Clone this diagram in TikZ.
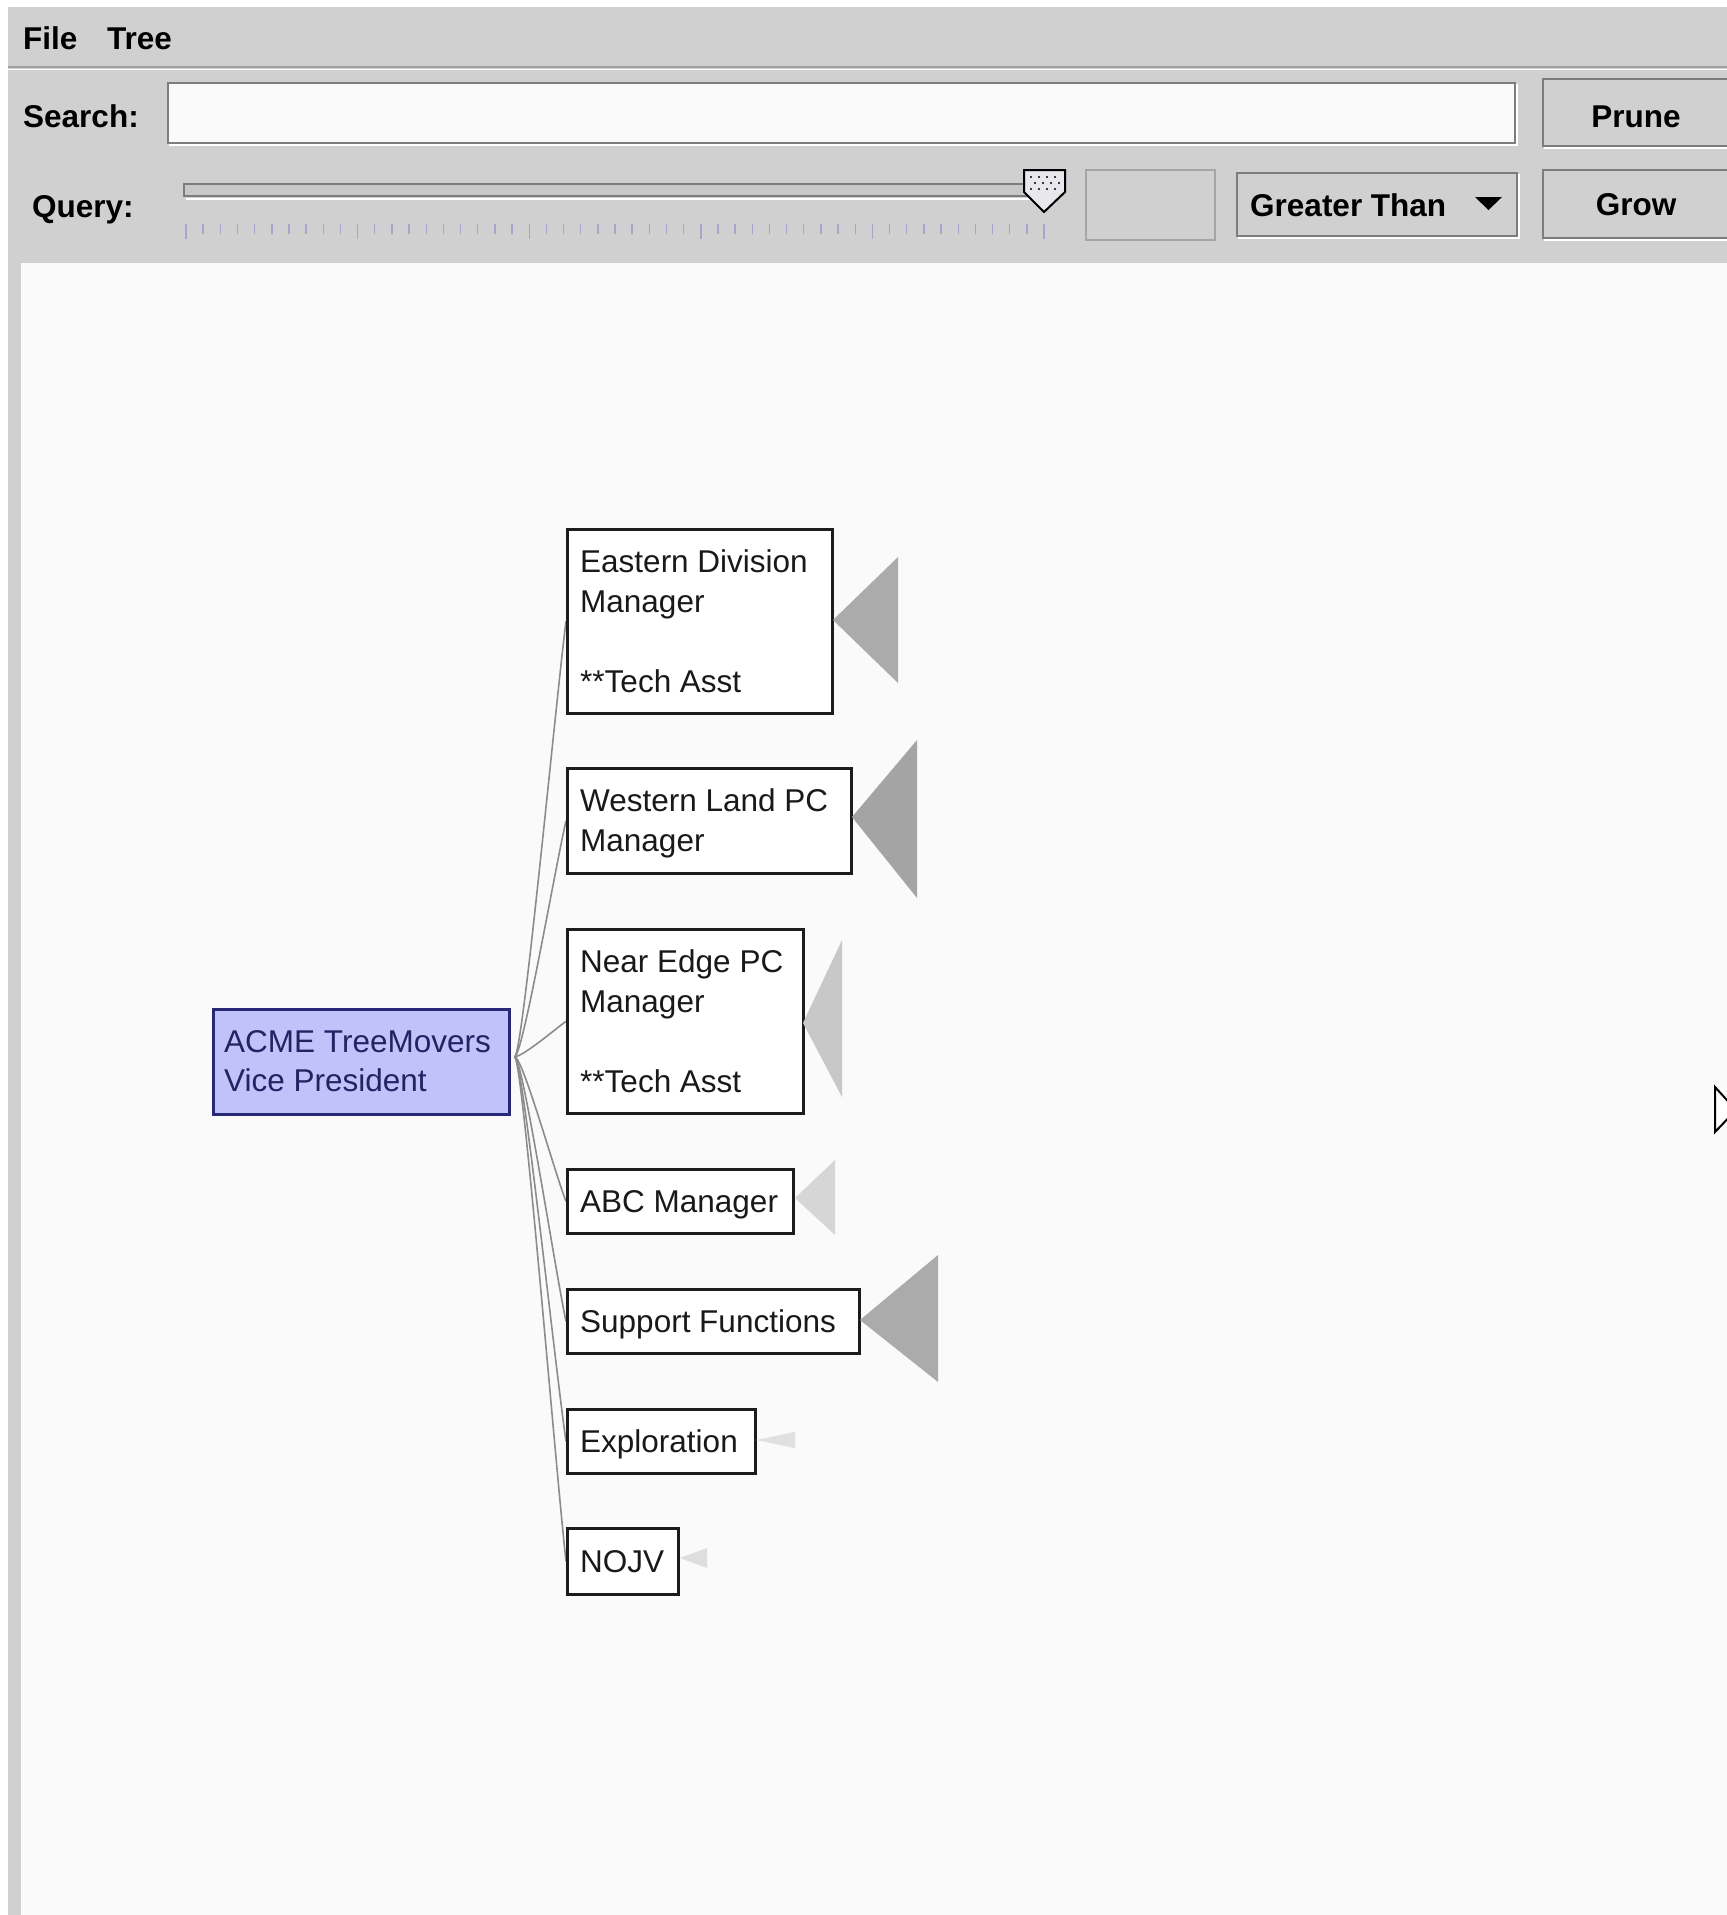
\documentclass[tikz,border=0pt]{standalone}
\usepackage{fontspec}
\setmainfont{Liberation Sans}
\usetikzlibrary{calc}
\pgfdeclarelayer{back}
\pgfdeclarelayer{edges}
\pgfsetlayers{back,edges,main}
\definecolor{panel}{RGB}{208,208,208}
\definecolor{canvas}{RGB}{250,250,250}
\definecolor{etch}{RGB}{125,125,125}
\definecolor{tickc}{RGB}{165,165,205}
\definecolor{rootfill}{RGB}{194,194,250}
\definecolor{rootdraw}{RGB}{40,40,120}
\definecolor{roottext}{RGB}{34,34,100}
\definecolor{boxdraw}{RGB}{28,28,28}
\definecolor{boxtext}{RGB}{25,25,25}
\definecolor{edgecol}{RGB}{140,140,140}
\tikzset{
  ui/.style={font=\fontsize{31.5}{38}\selectfont\bfseries, text=black, inner sep=0pt},
  txt/.style={font=\fontsize{31.5}{40}\selectfont, text=boxtext, inner sep=0pt, anchor=base west},
  roottxt/.style={txt, text=roottext},
  box/.style={draw=boxdraw, line width=2.6pt, fill=white, inner sep=0pt, anchor=north west, rectangle},
  rootbox/.style={box, draw=rootdraw, fill=rootfill},
  link/.style={draw=edgecol, line width=1.6pt},
  btn/.style={fill=panel, draw=etch, line width=2pt},
  etchw/.style={draw=white, line width=2pt},
}
\newcommand\treelink[2]{\draw[link] ($(#1.east)+(4,-5)$) .. controls ($(#1.east)+(12,-5)$) and ($(#2.west)!0.2!(#1.east)$) .. (#2.west);}
\begin{document}
\begin{tikzpicture}[x=1pt,y=-1pt]
\useasboundingbox (0,0) rectangle (1727,1915);
\clip (0,0) rectangle (1727,1915);
% backgrounds
\begin{pgfonlayer}{back}
\fill[white] (0,0) rectangle (1727,1915);
\fill[panel] (8,7) rectangle (1727,1915);
\fill[canvas] (21,263) rectangle (1727,1915);
\end{pgfonlayer}
% menu
\draw[draw={rgb,255:red,160;green,160;blue,160}, line width=2pt] (8,67) -- (1727,67);
\draw[white, line width=1pt] (8,69) -- (1727,69);
\node[ui, anchor=base west] (mfile) at (23,49) {File};
\node[ui, anchor=base west] (mtree) at (107,49) {Tree};
% search row
\node[ui, anchor=base west] (lsearch) at (23,127) {Search:};
\draw[etchw] (170,85) rectangle (1517,145);
\filldraw[fill=canvas, draw=etch, line width=2pt] (168,83) rectangle (1515,143);
\draw[etchw] (1545,81) rectangle (1760,148);
\filldraw[btn] (1543,79) rectangle (1760,146);
\node[ui, anchor=base] (prune) at (1636,127) {Prune};
% query row
\node[ui, anchor=base west] (lquery) at (32,217) {Query:};
\filldraw[fill={rgb,255:red,200;green,200;blue,200}, draw=etch, line width=2pt] (184,184) rectangle (1030,196);
\draw[white, line width=2pt] (186,199) -- (1030,199);
\foreach \i in {0,...,50} {\draw[tickc, line width=1.4pt] ({186+\i*17.16},224) -- ({186+\i*17.16},234);}
\foreach \i in {0,10,...,50} {\draw[tickc, line width=1.4pt] ({186+\i*17.16},224) -- ({186+\i*17.16},239);}
\filldraw[fill={rgb,255:red,232;green,232;blue,236}, draw=black, line width=2pt] (1024,170) -- (1065,170) -- (1065,192) -- (1044,212) -- (1024,192) -- cycle;
\foreach \x/\y in {1031/177,1039/177,1047/177,1055/177,1035/183,1043/183,1051/183,1059/183,1031/189,1039/189,1047/189,1055/189} {\fill[black] (\x,\y) circle[radius=1.2pt];}
\draw[draw={rgb,255:red,165;green,165;blue,165}, line width=1.6pt] (1086,170) rectangle (1215,240);
\draw[etchw] (1239,175) rectangle (1519,238);
\filldraw[btn] (1237,173) rectangle (1517,236);
\node[ui, anchor=base west] (gt) at (1250,216) {Greater Than};
\fill[black] (1475,197) -- (1502,197) -- (1488.5,210) -- cycle;
\draw[etchw] (1545,172) rectangle (1760,240);
\filldraw[btn] (1543,170) rectangle (1760,238);
\node[ui, anchor=base] (grow) at (1636,215) {Grow};
% tree nodes
\node[rootbox, minimum width=296pt, minimum height=105pt] (root) at (212,1008) {};
\node[box, minimum width=265pt, minimum height=184pt] (east) at (566,528) {};
\node[box, minimum width=284pt, minimum height=105pt] (west) at (566,767) {};
\node[box, minimum width=236pt, minimum height=184pt] (near) at (566,928) {};
\node[box, minimum width=226pt, minimum height=64pt] (abc) at (566,1168) {};
\node[box, minimum width=292pt, minimum height=64pt] (supp) at (566,1288) {};
\node[box, minimum width=188pt, minimum height=64pt] (expl) at (566,1408) {};
\node[box, minimum width=111pt, minimum height=66pt] (nojv) at (566,1527) {};
% edges
\begin{pgfonlayer}{edges}
\treelink{root}{east}
\treelink{root}{west}
\treelink{root}{near}
\treelink{root}{abc}
\treelink{root}{supp}
\treelink{root}{expl}
\treelink{root}{nojv}
\end{pgfonlayer}
% labels
\node[roottxt] (rt1) at (224,1052) {ACME TreeMovers};
\node[roottxt] (rt2) at (224,1091) {Vice President};
\node[txt] (et1) at (580,572) {Eastern Division};
\node[txt] (et2) at (580,612) {Manager};
\node[txt] (et3) at (580,692) {**Tech Asst};
\node[txt] (wt1) at (580,811) {Western Land PC};
\node[txt] (wt2) at (580,851) {Manager};
\node[txt] (nt1) at (580,972) {Near Edge PC};
\node[txt] (nt2) at (580,1012) {Manager};
\node[txt] (nt3) at (580,1092) {**Tech Asst};
\node[txt] (at1) at (580,1212) {ABC Manager};
\node[txt] (st1) at (580,1332) {Support Functions};
\node[txt] (xt1) at (580,1452) {Exploration};
\node[txt] (jt1) at (580,1572) {NOJV};
% subtree triangles
\fill[fill={rgb,255:red,171;green,171;blue,171}] (833,620) -- (898,557) -- (898,683) -- cycle;
\fill[fill={rgb,255:red,164;green,164;blue,164}] (852,817) -- (917,740) -- (917,898) -- cycle;
\fill[fill={rgb,255:red,200;green,200;blue,200}] (803,1023) -- (842,940) -- (842,1097) -- cycle;
\fill[fill={rgb,255:red,214;green,214;blue,214}] (795,1198) -- (835,1160) -- (835,1235) -- cycle;
\fill[fill={rgb,255:red,171;green,171;blue,171}] (860,1320) -- (938,1255) -- (938,1382) -- cycle;
\fill[fill={rgb,255:red,224;green,224;blue,224}] (756,1440) -- (795,1432) -- (795,1448) -- cycle;
\fill[fill={rgb,255:red,222;green,222;blue,222}] (680,1558) -- (707,1548) -- (707,1568) -- cycle;
% pointer at right edge
\filldraw[fill=white, draw=black, line width=2pt] (1715,1087) -- (1715,1132) -- (1736,1110) -- cycle;
\end{tikzpicture}
\end{document}
